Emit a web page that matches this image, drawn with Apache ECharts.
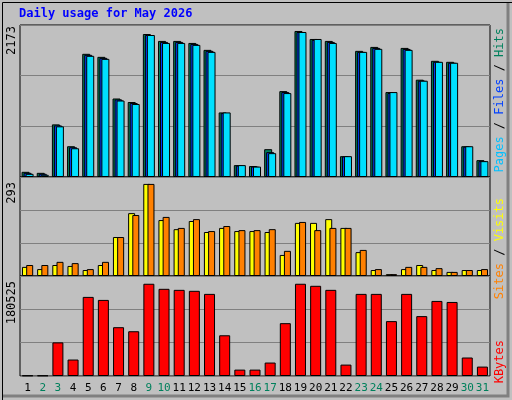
<!DOCTYPE html>
<html><head><meta charset="utf-8">
<script src="https://cdn.jsdelivr.net/npm/echarts@6/dist/echarts.min.js"></script>
<style>html,body{margin:0;padding:0;background:#c0c0c0}#c{width:512px;height:400px}</style>
</head><body><div id="c"></div>
<script>
const days = ['1','2','3','4','5','6','7','8','9','10','11','12','13','14','15','16','17','18','19','20','21','22','23','24','25','26','27','28','29','30','31'];
const weekend = ['2','3','9','10','16','17','23','24','30','31'];
const hits  = [77,62,783,458,1833,1788,1168,1116,2128,2025,2025,1995,1892,961,177,163,414,1278,2173,2054,2025,310,1877,1936,1264,1921,1448,1729,1714,458,251];
const files = [62,48,768,443,1818,1773,1153,1101,2113,2010,2010,1980,1877,951,170,155,370,1264,2158,2040,2010,305,1862,1921,1250,1906,1433,1714,1700,452,236];
const pages = [47,33,754,428,1803,1758,1138,1086,2113,1995,1995,1966,1862,961,177,155,355,1249,2158,2054,1995,310,1862,1907,1264,1892,1433,1714,1700,458,236];
const visits = [29,22,35,32,19,35,124,200,293,178,149,175,140,153,143,143,140,67,169,169,181,153,76,19,6,22,35,19,13,19,19];
const sites  = [35,35,45,41,22,45,124,194,293,188,153,181,143,159,146,146,149,80,172,146,153,153,83,22,6,29,29,25,13,19,22];
const kbytes = [1000,1000,65800,32200,154800,148900,95500,87600,180525,170600,168600,166700,160700,79700,12500,12500,26300,103400,180525,176500,168600,22300,160700,160700,107400,160700,117200,146900,144900,36200,18400];
const maxLabels = ['2173','293','180525'];

const font = 'DejaVu Sans Mono';
const chart = echarts.init(document.getElementById('c'));
const grids = [
  {left:20,width:470,top:25,height:152},
  {left:20,width:470,top:177,height:99},
  {left:20,width:470,top:276,height:100}
];
const bs = {borderColor:'#000',borderWidth:1};
function xAx(i,show){return {type:'category',gridIndex:i,data:days,
  axisLine:{show:false},axisTick:{show:false},
  axisLabel:{show:show,interval:0,margin:7,fontFamily:font,fontSize:11,
    formatter:v=>weekend.includes(v)?'{g|'+v+'}':'{k|'+v+'}',
    rich:{g:{color:'#00805c',fontFamily:font,fontSize:11},k:{color:'#000',fontFamily:font,fontSize:11}}}};}
function yAx(i,max,intv){return {type:'value',gridIndex:i,min:0,max:max,interval:intv,
  axisLabel:{show:false},axisLine:{show:false},axisTick:{show:false},
  splitLine:{lineStyle:{color:'#808080',width:1}}};}
chart.setOption({
  backgroundColor:'#c0c0c0',
  animation:false,
  grid:grids.map(g=>Object.assign({show:true,borderColor:'#000',borderWidth:1,backgroundColor:'#c0c0c0'},g)),
  xAxis:[xAx(0,false),xAx(1,false),xAx(2,true)],
  yAxis:[yAx(0,2262,754),yAx(1,315,105),yAx(2,195700,65233)],
  series:[
    {type:'bar',xAxisIndex:0,yAxisIndex:0,data:hits,barWidth:8,barGap:'-75%',itemStyle:Object.assign({color:'#00805c'},bs)},
    {type:'bar',xAxisIndex:0,yAxisIndex:0,data:files,barWidth:8,barGap:'-75%',itemStyle:Object.assign({color:'#0040ff'},bs)},
    {type:'bar',xAxisIndex:0,yAxisIndex:0,data:pages,barWidth:8,barGap:'-75%',itemStyle:Object.assign({color:'#00e0ff'},bs)},
    {type:'bar',xAxisIndex:1,yAxisIndex:1,data:visits,barWidth:7,barGap:'-40%',itemStyle:Object.assign({color:'#ffff00'},bs)},
    {type:'bar',xAxisIndex:1,yAxisIndex:1,data:sites,barWidth:7,barGap:'-40%',itemStyle:Object.assign({color:'#ff8000'},bs)},
    {type:'bar',xAxisIndex:2,yAxisIndex:2,data:kbytes,barWidth:11,itemStyle:Object.assign({color:'#ff0000'},bs)}
  ],
  graphic:[
    {type:'rect',left:0,top:0,shape:{width:511,height:399},style:{fill:'none',stroke:'#000',lineWidth:1},silent:true},
    {type:'polyline',shape:{points:[[508,3],[508,396],[3,396]]},style:{fill:'none',stroke:'#808080',lineWidth:3}},
    {type:'text',left:19,top:8,style:{text:'Daily usage for May 2026',fill:'#0000ff',font:'bold 12px '+font}},
    {type:'text',x:18,y:26,rotation:Math.PI/2,style:{text:maxLabels[0],fill:'#000',font:'12px '+font,align:'right',verticalAlign:'bottom'}},
    {type:'text',x:18,y:182,rotation:Math.PI/2,style:{text:maxLabels[1],fill:'#000',font:'12px '+font,align:'right',verticalAlign:'bottom'}},
    {type:'text',x:18,y:281,rotation:Math.PI/2,style:{text:maxLabels[2],fill:'#000',font:'12px '+font,align:'right',verticalAlign:'bottom'}},
    {type:'text',x:494,y:28,rotation:Math.PI/2,style:{text:'{p|Pages}{s| / }{f|Files}{s| / }{h|Hits}',align:'right',verticalAlign:'top',
      rich:{p:{fill:'#00c0ff',font:'12px '+font},f:{fill:'#0040ff',font:'12px '+font},h:{fill:'#00805c',font:'12px '+font},s:{fill:'#000',font:'12px '+font}}}},
    {type:'text',x:494,y:198,rotation:Math.PI/2,style:{text:'{a|Sites}{s| / }{b|Visits}',align:'right',verticalAlign:'top',
      rich:{a:{fill:'#ff8000',font:'12px '+font},b:{fill:'#ffff00',font:'12px '+font},s:{fill:'#000',font:'12px '+font}}}},
    {type:'text',x:494,y:340,rotation:Math.PI/2,style:{text:'KBytes',fill:'#ff0000',font:'12px '+font,align:'right',verticalAlign:'top'}}
  ]
});
</script></body></html>
